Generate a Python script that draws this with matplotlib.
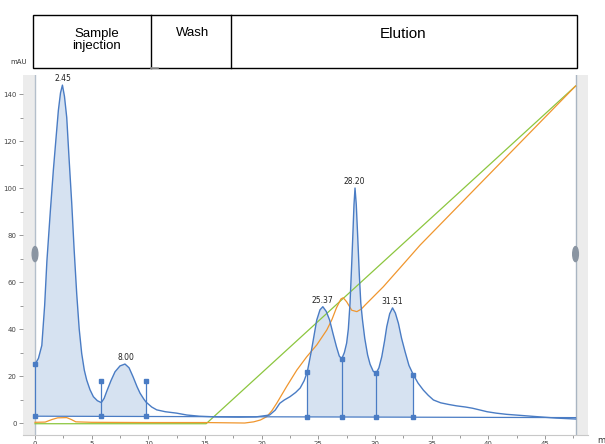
import numpy as np
import matplotlib.pyplot as plt
from matplotlib.patches import Ellipse, Rectangle
from matplotlib.lines import Line2D

# UV trace (mAU), time in min
uv_time = [0.0, 0.3, 0.6, 0.85, 1.05, 1.35, 1.62, 1.85, 2.06, 2.25, 2.42, 2.6, 2.8,
           3.0, 3.24, 3.45, 3.68, 3.9, 4.12, 4.35, 4.56, 4.85, 5.15, 5.5, 5.85, 6.1,
           6.33, 6.7, 7.06, 7.5, 7.94, 8.3, 8.65, 9.0, 9.27, 9.6, 9.8, 10.3, 10.74,
           11.5, 12.5, 13.4, 14.5, 16.0, 18.0, 19.5, 20.7, 21.2, 21.6, 22.0, 22.5,
           23.0, 23.4, 23.75, 24.03, 24.4, 24.86, 25.15, 25.4, 25.7, 26.0, 26.3, 26.6,
           26.85, 27.07, 27.3, 27.5, 27.65, 27.8, 27.95, 28.04, 28.15, 28.24, 28.35,
           28.48, 28.62, 28.75, 28.9, 29.1, 29.35, 29.57, 29.85, 30.1, 30.35, 30.6,
           30.85, 31.04, 31.3, 31.55, 31.8, 32.07, 32.35, 32.66, 33.0, 33.4, 33.8,
           34.27, 34.7, 35.16, 35.8, 36.5, 37.2, 38.0, 38.6, 39.3, 39.9, 40.7, 41.6,
           42.7, 44.3, 46.0, 47.7]
uv_mau = [25.0, 27.5, 33.0, 50.0, 69.0, 90.0, 107.7, 121.0, 133.0, 140.5, 143.8, 139.0, 130.0,
          113.0, 93.6, 74.0, 55.0, 40.0, 29.6, 22.5, 18.3, 14.2, 11.2, 9.5, 8.7, 10.5,
          13.5, 18.0, 21.8, 24.3, 25.1, 23.5, 19.7, 15.5, 12.7, 10.2, 8.9, 6.8, 5.6,
          4.8, 4.2, 3.4, 2.9, 2.6, 2.5, 2.6, 3.4, 5.5, 8.4, 9.8, 11.2,
          13.0, 14.9, 18.0, 21.8, 31.0, 43.8, 48.2, 49.5, 47.5, 43.8, 38.0, 32.5,
          28.5, 27.3, 30.0, 34.0, 40.0, 51.0, 68.0, 79.0, 93.0, 100.0, 93.0,
          79.0, 63.0, 51.0, 43.8, 36.0, 29.0, 25.0, 22.0, 21.2, 23.5, 28.2,
          35.0, 41.0, 46.5, 49.0, 46.8, 42.4, 36.0, 30.3, 24.5, 20.4, 17.0,
          14.0, 11.8, 9.8, 8.6, 7.9, 7.3, 6.8, 6.3, 5.5, 4.8, 4.2, 3.7,
          3.3, 2.7, 2.1, 1.7]

# gradient target (green)
grad_time = [0.0, 15.1, 47.7]
grad_val = [-0.3, -0.3, 143.4]

# measured gradient / conductivity (orange)
cond_time = [0.0, 0.9, 1.5, 2.0, 2.8, 3.2, 3.6, 5.0, 10.0, 15.0, 18.5, 19.3, 19.9,
             20.45, 20.9, 21.33, 22.2, 23.1, 23.98, 24.86, 25.75, 26.2, 26.6, 27.0,
             27.2, 27.5, 27.95, 28.4, 28.8, 29.13, 30.74, 32.3, 33.98, 47.7]
cond_val = [0.3, 0.4, 1.5, 2.2, 2.3, 1.5, 0.5, 0.3, 0.2, 0.2, 0.0, 0.5, 1.3,
            2.7, 5.2, 8.4, 15.5, 22.5, 28.2, 33.2, 39.6, 44.0, 49.0, 52.8,
            53.3, 51.6, 48.0, 47.4, 48.5, 50.2, 58.0, 66.5, 75.7, 143.4]

# integration limits and how high their marker lines go
cut_time = [0.0, 5.85, 9.8, 24.03, 27.07, 30.1, 33.4]
cut_top = [25.0, 18.0, 18.0, 21.8, 27.3, 21.2, 20.4]
base_time = [0.0, 47.7]
base_val = [2.9, 2.3]

peak_time = [2.45, 8.00, 25.37, 28.20, 31.51]
peak_height = [143.8, 25.1, 49.5, 100.0, 49.0]

phase_names = ['Sample\ninjection', 'Wash', 'Elution']

blue = '#4a7cc4'
W, H = 605, 444

fig = plt.figure(figsize=(W / 100, H / 100), dpi=100)
ax = fig.add_axes([23 / W, 1 - 435 / H, (588 - 23) / W, (435 - 75) / H])
ax.set_xlim(-1.06, 48.8)
ax.set_ylim(-5.1, 148.1)

# scroll strips at both ends
end_t = base_time[-1]
ax.axvspan(-1.06, 0, color='#ececec', lw=0, zorder=0)
ax.axvspan(end_t, 48.8, color='#ececec', lw=0, zorder=0)
ax.axvline(0, color='#b4bfcb', lw=1.0, zorder=1)
ax.axvline(end_t, color='#a9b5c2', lw=1.0, zorder=1)
for xh in (0, end_t):
    ax.add_patch(Ellipse((xh, 71.9), 0.5, 6.4, color='#8a95a2', zorder=6))

t = np.array(uv_time)
y = np.array(uv_mau)
base = np.interp(t, base_time, base_val)
mask = ((t >= cut_time[0]) & (t <= cut_time[2])) | ((t >= cut_time[3]) & (t <= cut_time[-1]))
ax.fill_between(t, y, base, where=mask, color='#d6e2f1', lw=0, zorder=2)

ax.plot(grad_time, grad_val, color='#8cc63f', lw=0.9, zorder=3)
ax.plot(cond_time, cond_val, color='#f0962e', lw=0.9, zorder=3)
ax.plot(base_time, base_val, color=blue, lw=0.9, zorder=4)
ax.plot(t, y, color=blue, lw=1.0, zorder=4)

cut_base = np.interp(cut_time, base_time, base_val)
ax.vlines(cut_time, cut_base, cut_top, color=blue, lw=0.9, zorder=4)
ax.plot(cut_time, cut_top, 's', color=blue, ms=2.2, zorder=5)
ax.plot(cut_time, cut_base, 's', color=blue, ms=2.2, zorder=5)

for pt, ph in zip(peak_time, peak_height):
    ax.annotate('%.2f' % pt, (pt, ph), xytext=(0, 1.5), textcoords='offset points',
                ha='center', va='bottom', fontsize=5.5, color='#222222')

for s in ('top', 'right', 'left'):
    ax.spines[s].set_visible(False)
ax.spines['bottom'].set_color('#c8c8c8')
ax.spines['bottom'].set_linewidth(0.8)
ax.set_yticks(np.arange(0, 141, 20))
ax.set_yticks(np.arange(10, 141, 20), minor=True)
ax.set_xticks(np.arange(0, 46, 5))
ax.set_xticks(np.arange(2.5, 48, 5), minor=True)
ax.tick_params(axis='both', which='both', colors='#888888', labelcolor='#444444',
               labelsize=5, width=0.6)
ax.tick_params(axis='both', which='major', length=3, pad=1.5)
ax.tick_params(axis='both', which='minor', length=2)

fig.text(10 / W, 1 - 61.5 / H, 'mAU', fontsize=5, color='#333333', va='center')
fig.text(597 / W, 1 - 436 / H, 'min', fontsize=6, color='#333333', va='top')

# phase header
tf = fig.transFigure
def px(x, yy):
    return x / W, 1 - yy / H

x0, y0 = px(33, 68)
x1, y1 = px(577, 15)
fig.add_artist(Rectangle((x0, y0), x1 - x0, y1 - y0, transform=tf, fill=False,
                         ec='black', lw=1.0))
for xd in (150.5, 230.5):
    fig.add_artist(Line2D([xd / W, xd / W], [y0, y1], transform=tf, color='black', lw=1.0))
fig.add_artist(Line2D([150.5 / W, 158 / W], [y0, y0], transform=tf, color='#999999', lw=1.2))

hdr = ['Liberation Sans', 'DejaVu Sans']
fig.text(96.5 / W, 1 - 40 / H, phase_names[0], ha='center', va='center', fontsize=9.5,
         family=hdr, linespacing=1.0)
fig.text(193 / W, 1 - 32.5 / H, phase_names[1], ha='center', va='center', fontsize=9.5,
         family=hdr)
fig.text(403.5 / W, 1 - 34.5 / H, phase_names[2], ha='center', va='center', fontsize=11,
         family=hdr)

fig.savefig('out.png', dpi=100)
